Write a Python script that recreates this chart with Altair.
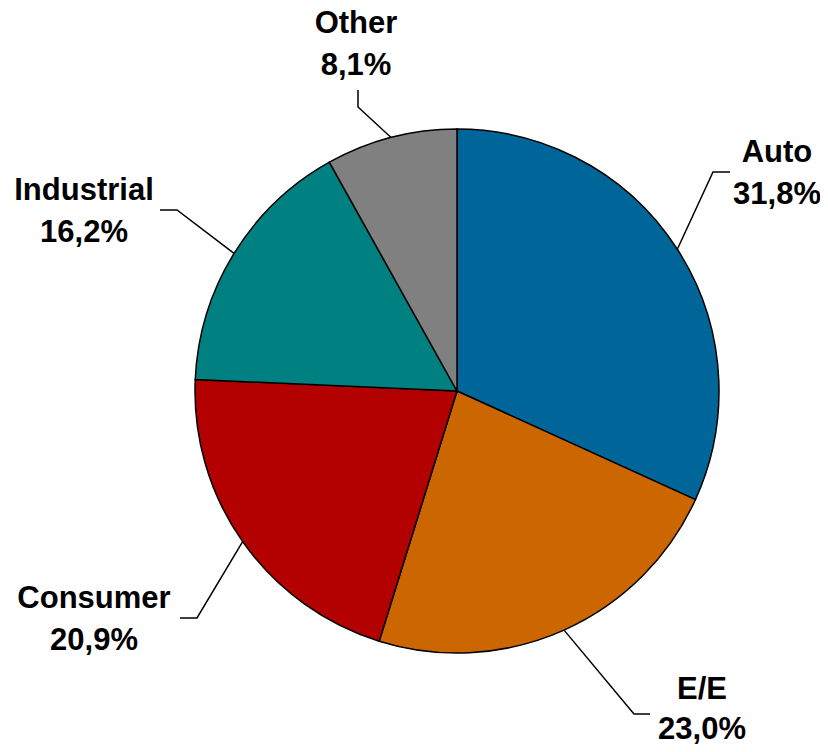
import altair as alt
import pandas as pd
import numpy as np

# ---- data ----
categories = ["Auto", "E/E", "Consumer", "Industrial", "Other"]
shares = [31.8, 23.0, 20.9, 16.2, 8.1]
share_labels = ["31,8%", "23,0%", "20,9%", "16,2%", "8,1%"]

# ---- style / layout ----
colors = ["#006699", "#CC6600", "#B30000", "#008080", "#808080"]
R = 262  # pie radius (px)
# label layout relative to pie centre (px, y downward):
# leader elbow, leader end, label centre x, first-line baseline y, line gap
layout = {
    "Auto": dict(elbow=(256, -219), end=(273, -219), lx=320, ly=-229, gap=41.5),
    "E/E": dict(elbow=(177, 323), end=(193, 323), lx=245, ly=308, gap=40),
    "Consumer": dict(elbow=(-260, 227), end=(-277, 227), lx=-363, ly=217, gap=41.5),
    "Industrial": dict(elbow=(-280, -181), end=(-297, -181), lx=-373, ly=-191, gap=41.5),
    "Other": dict(elbow=(-99, -284), end=(-99, -301), lx=-101, ly=-358, gap=41.5),
}
FONT = "Liberation Sans"
FONT_SIZE = 31

pie = pd.DataFrame({"category": categories, "share": shares, "idx": range(len(categories))})

# leader lines start at slice mid-angle on the rim
total = sum(shares)
cum = np.cumsum([0] + shares[:-1])
lead_rows, text_rows = [], []
for c, s, c0, lab in zip(categories, shares, cum, share_labels):
    a = np.deg2rad((c0 + s / 2) / total * 360)
    sx, sy = R * np.sin(a), -R * np.cos(a)
    L = layout[c]
    pts = [(sx, sy), L["elbow"], L["end"]]
    for k, (px, py) in enumerate(pts):
        lead_rows.append({"category": c, "k": k, "x": px, "y": py})
    text_rows.append({"x": L["lx"], "y": L["ly"], "t": c})
    text_rows.append({"x": L["lx"], "y": L["ly"] + L["gap"], "t": lab})
leads = pd.DataFrame(lead_rows)
texts = pd.DataFrame(text_rows)

xs = alt.Scale(domain=[-300, 300], nice=False, zero=False)
ys = alt.Scale(domain=[-300, 300], nice=False, zero=False, reverse=True)

arcs = alt.Chart(pie).mark_arc(outerRadius=R, stroke="black", strokeWidth=1.5).encode(
    theta=alt.Theta("share:Q", stack=True),
    color=alt.Color("category:N", scale=alt.Scale(domain=categories, range=colors), legend=None),
    order=alt.Order("idx:Q"),
)

lines = alt.Chart(leads).mark_line(color="black", strokeWidth=1.5).encode(
    x=alt.X("x:Q", scale=xs, axis=None),
    y=alt.Y("y:Q", scale=ys, axis=None),
    detail="category:N",
    order=alt.Order("k:Q"),
)

labels = alt.Chart(texts).mark_text(
    font=FONT, fontWeight="bold", fontSize=FONT_SIZE, align="center", baseline="alphabetic", color="black"
).encode(
    x=alt.X("x:Q", scale=xs, axis=None),
    y=alt.Y("y:Q", scale=ys, axis=None),
    text="t:N",
)

chart = alt.layer(arcs, lines, labels).properties(
    width=600,
    height=600,
    padding={"left": 149, "top": 83, "right": 63, "bottom": 53},
    autosize="none",
).configure_view(stroke=None)

chart.save("out.html", embed_options={"renderer": "svg", "actions": False})
